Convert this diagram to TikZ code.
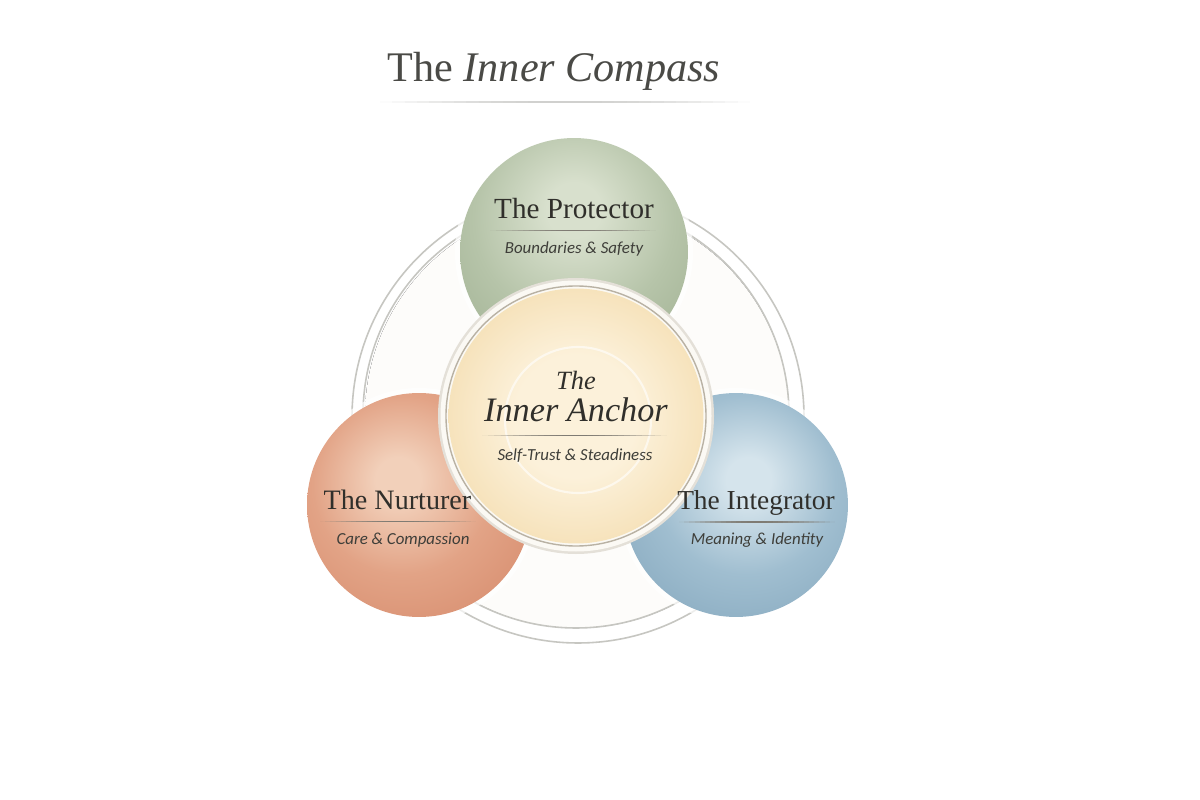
\documentclass[tikz,border=0pt]{standalone}
\usepackage{fontspec}
\setmainfont{Liberation Serif}
\newfontfamily\subfont{Carlito}

\definecolor{inkc}{HTML}{302F2B}
\definecolor{titlec}{HTML}{4A4A46}
\definecolor{subc}{HTML}{3E3E39}
\definecolor{ringc}{HTML}{C6C6C1}
\definecolor{sepc}{HTML}{7F7B73}
\definecolor{titleline}{HTML}{D0D0CE}
\definecolor{bgL}{HTML}{FDFCFA}
\definecolor{bgD}{HTML}{F2F0EB}
\definecolor{protL}{HTML}{D8E0CD}
\definecolor{protM}{HTML}{B6C4A9}
\definecolor{protD}{HTML}{9AAB8C}
\definecolor{nurtL}{HTML}{F2D0BA}
\definecolor{nurtM}{HTML}{E2A386}
\definecolor{nurtD}{HTML}{D38566}
\definecolor{integL}{HTML}{D5E4EC}
\definecolor{integM}{HTML}{A0BED0}
\definecolor{integD}{HTML}{7DA1B8}
\definecolor{anchL}{HTML}{FCF1DA}
\definecolor{anchM}{HTML}{F4DDB0}
\definecolor{anchD}{HTML}{EDCD96}
\definecolor{anchring}{HTML}{FBF9F4}
\definecolor{anchline}{HTML}{B9B2A4}
\definecolor{shadowc}{HTML}{E4E0D8}

\pgfdeclareradialshading{bgshade}{\pgfpoint{0bp}{0bp}}{color(0bp)=(bgL); color(30bp)=(bgL); color(50bp)=(bgD); color(75bp)=(bgD)}
\pgfdeclareradialshading{protshade}{\pgfpoint{0bp}{10bp}}{color(0bp)=(protL); color(6bp)=(protL); color(22bp)=(protM); color(42bp)=(protD); color(80bp)=(protD)}
\pgfdeclareradialshading{nurtshade}{\pgfpoint{-5bp}{6bp}}{color(0bp)=(nurtL); color(5bp)=(nurtL); color(20bp)=(nurtM); color(42bp)=(nurtD); color(80bp)=(nurtD)}
\pgfdeclareradialshading{integshade}{\pgfpoint{3bp}{6bp}}{color(0bp)=(integL); color(5bp)=(integL); color(20bp)=(integM); color(42bp)=(integD); color(80bp)=(integD)}
\pgfdeclareradialshading{anchshade}{\pgfpoint{0bp}{0bp}}{color(0bp)=(anchL); color(12bp)=(anchL); color(30bp)=(anchM); color(46bp)=(anchD); color(70bp)=(anchD)}

% line whose ends fade out: x1, x2, y, colour, width
\newcommand{\fadeline}[5]{%
  \foreach \i in {0,...,29}{%
    \pgfmathsetmacro{\xa}{#1+(#2-#1)*\i/30}%
    \pgfmathsetmacro{\xb}{#1+(#2-#1)*(\i+1)/30}%
    \pgfmathsetmacro{\op}{sin(180*(\i+0.5)/30)}%
    \draw[#4, line width=#5, opacity=\op] (\xa,#3) -- (\xb,#3);
  }}

\tikzset{
  ring/.style={draw=ringc, line width=0.9pt},
  halo/.style={fill=white, opacity=0.7},
  bubble/.style={circle, inner sep=0pt},
  headtext/.style={anchor=base, inner sep=0pt, text=inkc, font=\fontsize{16}{18}\selectfont},
  subtext/.style={anchor=base, inner sep=0pt, text=subc, font=\subfont\itshape\fontsize{9.6}{11}\selectfont}
}

\begin{document}
\begin{tikzpicture}[x=0.02cm,y=0.02cm]
\path[use as bounding box, fill=white] (0,0) rectangle (1200,-800);

% title
\node[anchor=base, inner sep=0pt, text=titlec, font=\fontsize{24}{28}\selectfont] (title) at (554,-81.7) {The \textit{Inner Compass}};
\fadeline{380}{750}{-101.6}{titleline}{1.1pt}

% background disc and rings
\fill[shading=bgshade] (577,-416) circle (212);
\draw[ring] (578,-417) circle (226);
\draw[ring] (576,-415) circle (213);

% halos
\fill[halo] (574,-252) circle (119);
\fill[halo] (419,-505) circle (117);
\fill[halo] (736,-505) circle (117);

% outer bubbles
\node[bubble, minimum size=4.56cm, shading=protshade] (prot) at (574,-252) {};
\node[bubble, minimum size=4.48cm, shading=nurtshade] (nurt) at (419,-505) {};
\node[bubble, minimum size=4.48cm, shading=integshade] (integ) at (736,-505) {};

% anchor
\fill[shadowc] (576,-416) circle (138);
\fill[anchring] (576,-416) circle (135.5);
\draw[anchline, line width=0.8pt] (576,-416) circle (130);
\node[bubble, minimum size=5.1cm, shading=anchshade] (anchor) at (576,-416) {};
\draw[white, line width=1.2pt, opacity=0.6] (578,-420) circle (73);

% protector text
\node[headtext, font=\fontsize{16.6}{18}\selectfont] (protT) at (574,-218.5) {The Protector};
\fadeline{490}{656}{-230.3}{sepc}{0.6pt}
\node[subtext] (protS) at (574,-254) {Boundaries \& Safety};

% anchor text
\node[headtext, font=\itshape\fontsize{15}{17}\selectfont] (anchT1) at (576,-390) {The};
\node[headtext, font=\itshape\fontsize{19.5}{21}\selectfont] (anchT2) at (576,-421.7) {Inner Anchor};
\fadeline{482}{667}{-435.7}{sepc}{0.6pt}
\node[subtext] (anchS) at (575,-460) {Self-Trust \& Steadiness};

% nurturer text
\node[headtext] (nurtT) at (397.5,-509) {The Nurturer};
\fadeline{320}{476}{-521.7}{sepc}{0.6pt}
\node[subtext] (nurtS) at (403,-544) {Care \& Compassion};

% integrator text
\node[headtext, font=\fontsize{15.6}{18}\selectfont] (integT) at (756,-509) {The Integrator};
\fadeline{679}{835}{-522}{sepc}{0.6pt}
\node[subtext] (integS) at (757,-544) {Meaning \& Identity};
\end{tikzpicture}
\end{document}
